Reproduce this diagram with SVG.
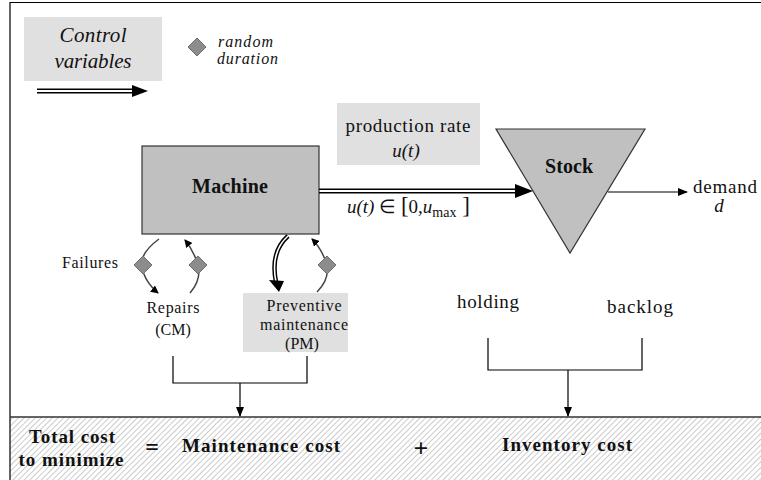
<svg xmlns="http://www.w3.org/2000/svg" width="761" height="480" viewBox="0 0 761 480">
<defs>
<pattern id="hatch" width="4" height="4" patternUnits="userSpaceOnUse" patternTransform="rotate(45)">
<rect width="4" height="4" fill="#ffffff"/>
<line x1="0" y1="0" x2="0" y2="4" stroke="#a8a8a8" stroke-width="1.2"/>
</pattern>
<marker id="ah" markerWidth="10" markerHeight="8" refX="9" refY="4" orient="auto" markerUnits="userSpaceOnUse">
<path d="M0,0 L10,4 L0,8 Z" fill="#000"/>
</marker>
<marker id="ahs" markerWidth="8" markerHeight="8" refX="7" refY="4" orient="auto" markerUnits="userSpaceOnUse">
<path d="M0,0 L8,4 L0,8 Z" fill="#000"/>
</marker>
<polygon id="dia" points="0,-9 9,0 0,9 -9,0" fill="#8c8c8c" stroke="#6e6e6e" stroke-width="1"/>
</defs>
<style>
.line{stroke:#000;stroke-width:1.2;fill:none;}
.arc{stroke:#444;stroke-width:1.5;fill:none;}
</style>
<rect x="0" y="0" width="761" height="480" fill="#fff"/>
<rect x="10" y="417" width="751" height="63" fill="url(#hatch)"/>
<path d="M10,480 V2.5 H761" class="line" stroke="#333"/>
<line x1="10" y1="417" x2="761" y2="417" stroke="#333" stroke-width="1.5"/>

<g id="legend-control">
<rect x="24" y="17" width="138" height="64" fill="#e0e0e0"/>
<text x="93" y="42" text-anchor="middle" font-family="Liberation Serif" font-style="italic" font-size="21" fill="#111" textLength="67" lengthAdjust="spacing">Control</text>
<text x="93" y="68" text-anchor="middle" font-family="Liberation Serif" font-style="italic" font-size="21" fill="#111" textLength="77" lengthAdjust="spacing">variables</text>
<line x1="37" y1="89.3" x2="136" y2="89.3" stroke="#000" stroke-width="1.4"/>
<line x1="37" y1="92.7" x2="136" y2="92.7" stroke="#000" stroke-width="1.4"/>
<polygon points="132,85 148,91 132,97" fill="#000"/>
</g>
<g id="legend-random">
<use href="#dia" x="197" y="47"/>
<text x="218" y="47" font-family="Liberation Serif" font-style="italic" font-size="16" fill="#111" textLength="55" lengthAdjust="spacing">random</text>
<text x="217" y="64" font-family="Liberation Serif" font-style="italic" font-size="16" fill="#111" textLength="61" lengthAdjust="spacing">duration</text>
</g>

<g id="machine">
<rect x="142" y="146" width="177" height="88" fill="#c0c0c0" stroke="#333" stroke-width="1.2"/>
<text x="230" y="193" text-anchor="middle" font-family="Liberation Serif" font-weight="bold" font-size="20" fill="#111" textLength="76" lengthAdjust="spacing">Machine</text>
</g>
<g id="production-rate">
<rect x="337" y="103" width="143" height="62" fill="#e0e0e0"/>
<text x="408" y="132" text-anchor="middle" font-family="Liberation Serif" font-size="19" fill="#111" textLength="125" lengthAdjust="spacing">production rate</text>
<text x="406" y="157" text-anchor="middle" font-family="Liberation Serif" font-style="italic" font-size="19" fill="#111">u(t)</text>
</g>
<g id="stock">
<polygon points="496,129 645,129 570,253" fill="#c0c0c0" stroke="#333" stroke-width="1.2"/>
<text x="569" y="173" text-anchor="middle" font-family="Liberation Serif" font-weight="bold" font-size="20" fill="#111" textLength="48" lengthAdjust="spacing">Stock</text>
</g>
<g id="demand">
<text x="725" y="193" text-anchor="middle" font-family="Liberation Serif" font-size="19" fill="#111" textLength="64" lengthAdjust="spacing">demand</text>
<text x="719" y="212" text-anchor="middle" font-family="Liberation Serif" font-style="italic" font-size="19" fill="#111">d</text>
</g>
<g id="failures">
<text x="90" y="268" text-anchor="middle" font-family="Liberation Serif" font-size="16" fill="#111" textLength="56" lengthAdjust="spacing">Failures</text>
</g>
<g id="repairs">
<text x="173" y="313" text-anchor="middle" font-family="Liberation Serif" font-size="16" fill="#111" textLength="53" lengthAdjust="spacing">Repairs</text>
<text x="173" y="335" text-anchor="middle" font-family="Liberation Serif" font-size="16" fill="#111">(CM)</text>
</g>
<g id="pm">
<rect x="243" y="293" width="105" height="59" fill="#e0e0e0"/>
<text x="304" y="311" text-anchor="middle" font-family="Liberation Serif" font-size="16" fill="#111" textLength="75" lengthAdjust="spacing">Preventive</text>
<text x="304" y="330" text-anchor="middle" font-family="Liberation Serif" font-size="16" fill="#111" textLength="88" lengthAdjust="spacing">maintenance</text>
<text x="302" y="349" text-anchor="middle" font-family="Liberation Serif" font-size="16" fill="#111">(PM)</text>
</g>
<g id="holding">
<text x="488" y="308" text-anchor="middle" font-family="Liberation Serif" font-size="19" fill="#111" textLength="62" lengthAdjust="spacing">holding</text>
</g>
<g id="backlog">
<text x="640" y="313" text-anchor="middle" font-family="Liberation Serif" font-size="19" fill="#111" textLength="66" lengthAdjust="spacing">backlog</text>
</g>
<g id="total-cost">
<text x="72" y="443" text-anchor="middle" font-family="Liberation Serif" font-weight="bold" font-size="19" fill="#111" textLength="86" lengthAdjust="spacing">Total cost</text>
<text x="71" y="466" text-anchor="middle" font-family="Liberation Serif" font-weight="bold" font-size="19" fill="#111" textLength="105" lengthAdjust="spacing">to minimize</text>
<text x="152" y="455" text-anchor="middle" font-family="Liberation Serif" font-weight="bold" font-size="24" fill="#111">=</text>
<text x="182" y="452" font-family="Liberation Serif" font-weight="bold" font-size="19" fill="#111" textLength="158" lengthAdjust="spacing">Maintenance cost</text>
<text x="421" y="457" text-anchor="middle" font-family="Liberation Serif" font-weight="bold" font-size="26" fill="#111">+</text>
<text x="502" y="451" font-family="Liberation Serif" font-weight="bold" font-size="19" fill="#111" textLength="130" lengthAdjust="spacing">Inventory cost</text>
</g>

<g id="connectors">
<line x1="319" y1="189.3" x2="518" y2="189.3" stroke="#000" stroke-width="1.5"/>
<line x1="319" y1="192.7" x2="518" y2="192.7" stroke="#000" stroke-width="1.5"/>
<polygon points="515,184 533,191 515,198" fill="#000"/>
<text x="347" y="213" font-family="Liberation Serif" font-style="italic" font-size="19" fill="#111">u(t) <tspan font-style="normal">∈</tspan> <tspan font-style="normal" font-size="23">[</tspan><tspan font-style="normal">0,</tspan>u<tspan font-style="normal" font-size="14" dy="4">max</tspan><tspan font-style="normal" font-size="23" dy="-4"> ]</tspan></text>
<line x1="608" y1="192" x2="687" y2="192" class="line" marker-end="url(#ah)"/>
<path d="M159,239 Q136,256 143,272 Q148,285 158,293" class="arc" marker-end="url(#ahs)"/>
<use href="#dia" x="143" y="265"/>
<path d="M190,293 Q203,278 197,262 Q193,250 185,240" class="arc" marker-end="url(#ahs)"/>
<use href="#dia" x="198" y="265"/>
<path d="M288,236 Q270,252 276,282" fill="none" stroke="#000" stroke-width="4.5"/>
<path d="M288,236 Q270,252 276,282" fill="none" stroke="#fff" stroke-width="1.6"/>
<polygon points="269,280 284,281 279,292" fill="#000"/>
<path d="M317,292 Q331,278 326,262 Q321,248 312,239" class="arc" marker-end="url(#ahs)"/>
<use href="#dia" x="327" y="265"/>
<path d="M173,356 V383 H307 V356" class="line"/>
<line x1="240" y1="383" x2="240" y2="416" class="line" marker-end="url(#ah)"/>
<path d="M488,338 V370 H642 V338" class="line"/>
<line x1="568" y1="370" x2="568" y2="416" class="line" marker-end="url(#ah)"/>
</g>
</svg>
